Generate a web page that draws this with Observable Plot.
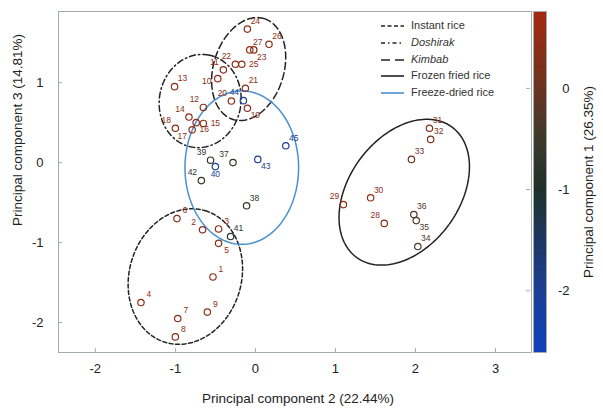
<!DOCTYPE html>
<html><head><meta charset="utf-8">
<script src="https://cdn.jsdelivr.net/npm/d3@7"></script>
<script src="https://cdn.jsdelivr.net/npm/@observablehq/plot@0.6"></script>
<style>
body{margin:0;background:#fff;font-family:Arial,"Liberation Sans",sans-serif;}
#wrap{position:relative;width:603px;height:408px;overflow:hidden;background:#fff;}
#wrap > div{position:absolute;}
.lg{position:absolute;font-size:11px;color:#333;white-space:nowrap;}
</style></head><body><div id="wrap"></div>
<script>
// ---- data ----
const ids = [1,2,3,4,5,6,7,8,9,10,11,12,13,14,15,16,17,18,19,20,21,22,23,24,25,26,27,28,29,30,31,32,33,34,35,36,37,38,39,40,41,42,43,44,45];
const pc2 = [-0.53,-0.66,-0.46,-1.43,-0.46,-0.98,-0.97,-1.00,-0.60,
             -0.47,-0.40,-0.65,-1.01,-0.83,-0.65,-0.74,-0.79,-1.00,
             -0.10,-0.30,-0.125,-0.25,-0.02,-0.10,-0.17,0.17,-0.07,
             1.61,1.10,1.44,2.175,2.19,1.95,2.03,2.01,1.98,
             -0.28,-0.11,-0.56,-0.50,-0.31,-0.675,0.03,-0.15,0.38];
const pc3 = [-1.43,-0.84,-0.83,-1.75,-1.01,-0.70,-1.95,-2.18,-1.87,
             1.05,1.16,0.69,0.95,0.57,0.49,0.50,0.41,0.43,
             0.68,0.77,0.93,1.23,1.41,1.67,1.23,1.48,1.41,
             -0.76,-0.525,-0.44,0.43,0.29,0.04,-1.05,-0.725,-0.65,
             0.00,-0.54,0.03,-0.05,-0.925,-0.225,0.04,0.775,0.21];
const pc1 = [0.45,0.40,0.40,0.50,0.45,0.45,0.45,0.40,0.45,
             0.45,0.45,0.45,0.50,0.45,0.40,0.45,0.45,0.45,
             0.40,0.40,0.40,0.45,0.40,0.45,0.40,0.45,0.45,
             0.50,0.50,0.45,0.40,0.20,0.10,-0.35,-0.35,-0.30,
             -0.80,-0.70,-0.75,-2.00,-0.85,-0.85,-1.90,-2.10,-1.95];
// label placement codes (default "ne")
const labelPlacement = {23:"se",25:"e",22:"nw",11:"nw",10:"w",20:"nw",44:"nw",19:"se",12:"nw",14:"nw",
  15:"e",16:"se",17:"sw",18:"nw",39:"nw",37:"nw",43:"se",40:"s",42:"nw",2:"nw",5:"se",29:"nw",28:"nw",35:"se"};
const xTicks = [-2,-1,0,1,2,3];
const yTicks = [-2,-1,0,1];
const cbTicks = [-2,-1,0];
const groupNames = ["Instant rice","Doshirak","Kimbab","Frozen fried rice","Freeze-dried rice"];
const ellCx = [-0.875,-0.69,-0.084,1.86,-0.17];
const ellCy = [-1.425,0.77,1.17,-0.37,-0.0625];
const ellA = [0.86,0.585,0.66,1.01,0.96];
const ellB = [0.70,0.51,0.44,0.69,0.71];
const ellTilt = [17,10,17,36,0];
const cbStops = [-2.61,-2,-1.5,-1,-0.5,0,0.76];
const cbColors = ["#1040bc","#1b3f95","#1d3663","#1f3129","#3d3a2c","#6b3322","#a52a0f"];

// ---- build ----
const FONT = 'Arial,"Liberation Sans",sans-serif';
const points = ids.map((id,i)=>({id:String(id), pc2:pc2[i], pc3:pc3[i], pc1:pc1[i], pos: labelPlacement[id] || "ne"}));
const colorScale = {type:"linear", domain: cbStops, range: cbColors, interpolate:"rgb"};
const ellipseData = groupNames.flatMap((g,k)=>d3.range(0,145).map(j=>{
  const t=j/144*2*Math.PI, th=ellTilt[k]*Math.PI/180;
  const u=ellA[k]*Math.cos(t), v=ellB[k]*Math.sin(t);
  return {g, x: ellCx[k] + u*Math.sin(th) + v*Math.cos(th), y: ellCy[k] + u*Math.cos(th) - v*Math.sin(th)};
}));
const styles = [
  {stroke:"#222", dash:"4,2.5"},
  {stroke:"#222", dash:"6,3,1.5,3"},
  {stroke:"#222", dash:"7,3.5"},
  {stroke:"#222", dash:null},
  {stroke:"#4a90d0", dash:null}];
const offsets = {ne:[8,-8], nw:[-9,-8], se:[8,7], sw:[-10,6], e:[12,0], w:[-11,3], s:[0,8]};

const xDom = [-2.46,3.45], yDom = [-2.375,1.89];
const gray = "#a3adab";

const main = Plot.plot({
  width:603, height:408, marginLeft:58, marginRight:72, marginTop:11, marginBottom:56,
  x:{domain:xDom}, y:{domain:yDom},
  color: colorScale,
  style:{fontFamily:FONT, background:"transparent", overflow:"visible"},
  marks:[
    Plot.frame({stroke:gray}),
    Plot.axisX(xTicks,{tickSize:0, tickPadding:11, fontSize:13, fill:"#222", label:null, tickFormat:d=>String(d)}),
    Plot.axisY(yTicks,{tickSize:0, tickPadding:15, fontSize:13, fill:"#222", label:null, tickFormat:d=>String(d)}),
    Plot.ruleX(xTicks,{x:d=>d, y1:yDom[0], y2:yDom[0]+0.05, stroke:gray}),
    Plot.ruleY(yTicks,{y:d=>d, x1:xDom[0], x2:xDom[0]+0.05, stroke:gray}),
    Plot.text(["Principal component 2 (22.44%)"],{frameAnchor:"bottom", lineAnchor:"middle", dy:46, dx:3, fontSize:13.5, fill:"#222"}),
    Plot.text(["Principal component 3 (14.81%)"],{frameAnchor:"left", textAnchor:"middle", lineAnchor:"middle", dx:-41, dy:-52, rotate:-90, fontSize:13.5, fill:"#222"}),
    ...styles.map((s,k)=>Plot.line(ellipseData.filter(d=>d.g===groupNames[k]),
        {x:"x", y:"y", stroke:s.stroke, strokeWidth:1.5, strokeDasharray:s.dash})),
    Plot.dot(points,{x:"pc2", y:"pc3", stroke:"pc1", r:3.2, strokeWidth:1.2, fill:"none"}),
    ...Object.entries(offsets).map(([code,[dx,dy]])=>Plot.text(points.filter(p=>p.pos===code),
        {x:"pc2", y:"pc3", text:"id", fill:"pc1", dx, dy, fontSize:8.5, fontWeight:"normal"}))
  ]
});

const cbDom = [-2.61,0.76];
const cb = Plot.plot({
  width:83, height:408, marginLeft:13, marginRight:57, marginTop:11, marginBottom:56,
  x:{domain:[0,1], axis:null}, y:{domain:cbDom, axis:null},
  color: colorScale,
  style:{fontFamily:FONT, background:"transparent", overflow:"visible"},
  marks:[
    Plot.raster({x1:0, x2:1, y1:cbDom[0], y2:cbDom[1], fill:(x,y)=>y}),
    Plot.frame({stroke:gray}),
    Plot.ruleY(cbTicks,{y:d=>d, x1:-0.54, x2:-0.23, stroke:gray}),
    Plot.text(cbTicks,{y:d=>d, frameAnchor:"right", dx:23, textAnchor:"end", fontSize:13, fill:"#222", text:d=>String(d)}),
    Plot.text(["Principal component 1 (26.35%)"],{frameAnchor:"right", textAnchor:"middle", lineAnchor:"middle", dx:42, rotate:-90, fontSize:13.5, fill:"#222"})
  ]
});

const wrap = document.getElementById("wrap");
const d1 = document.createElement("div"); d1.style.left="0px"; d1.style.top="0px"; d1.appendChild(main); wrap.appendChild(d1);
const d2 = document.createElement("div"); d2.style.left="520px"; d2.style.top="0px"; d2.appendChild(cb); wrap.appendChild(d2);

// legend
const lgDash = ["4,2.5","4,3,1.5,3","9,5",null,null];
groupNames.forEach((g,k)=>{
  const y = 26 + k*16.8;
  const svgNS = "http://www.w3.org/2000/svg";
  const s = document.createElementNS(svgNS,"svg");
  s.setAttribute("width","26"); s.setAttribute("height","6");
  s.style.position="absolute"; s.style.left="380px"; s.style.top=(y-3)+"px";
  const ln = document.createElementNS(svgNS,"line");
  ln.setAttribute("x1","1"); ln.setAttribute("x2","24"); ln.setAttribute("y1","3"); ln.setAttribute("y2","3");
  ln.setAttribute("stroke", styles[k].stroke); ln.setAttribute("stroke-width","1.6");
  if (lgDash[k]) ln.setAttribute("stroke-dasharray", lgDash[k]);
  s.appendChild(ln); wrap.appendChild(s);
  const t = document.createElement("span"); t.className="lg"; t.textContent=g;
  t.style.left="411px"; t.style.top=(y-7)+"px";
  if (k===1||k===2) t.style.fontStyle="italic";
  wrap.appendChild(t);
});
</script></body></html>
